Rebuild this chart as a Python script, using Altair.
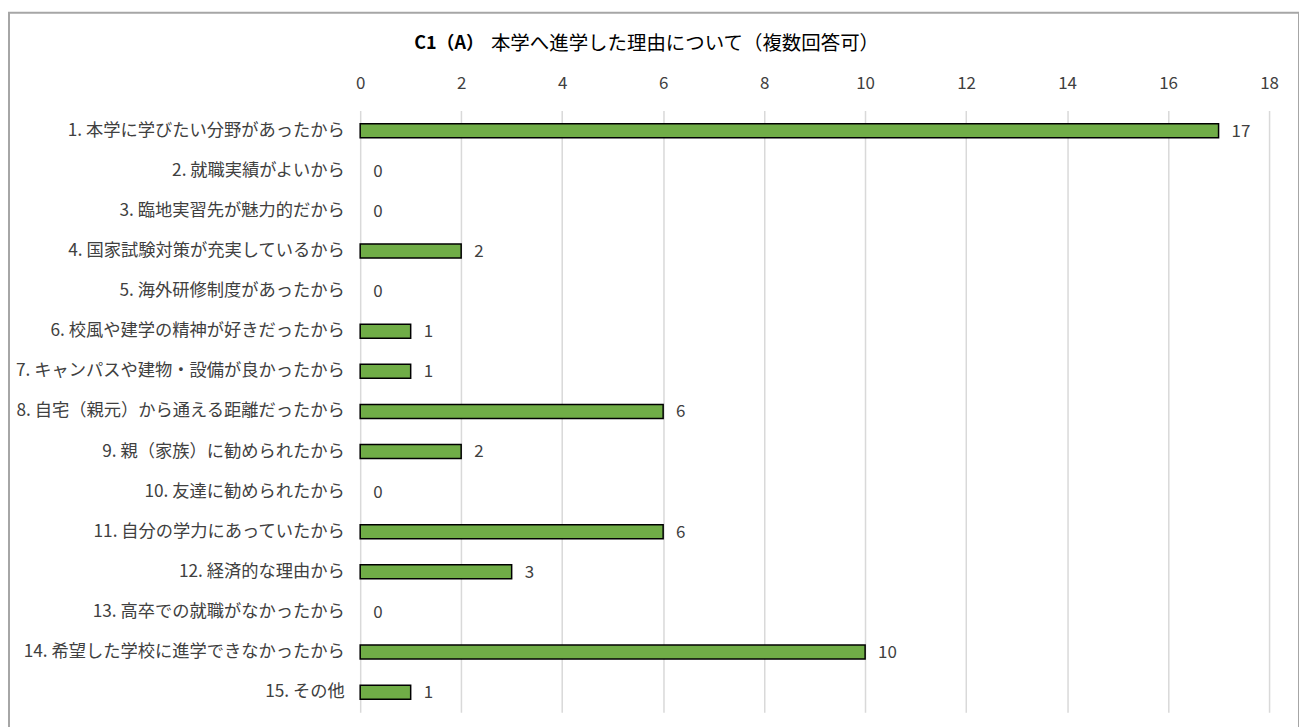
import altair as alt
import pandas as pd

categories = [
    "1. 本学に学びたい分野があったから",
    "2. 就職実績がよいから",
    "3. 臨地実習先が魅力的だから",
    "4. 国家試験対策が充実しているから",
    "5. 海外研修制度があったから",
    "6. 校風や建学の精神が好きだったから",
    "7. キャンパスや建物・設備が良かったから",
    "8. 自宅（親元）から通える距離だったから",
    "9. 親（家族）に勧められたから",
    "10. 友達に勧められたから",
    "11. 自分の学力にあっていたから",
    "12. 経済的な理由から",
    "13. 高卒での就職がなかったから",
    "14. 希望した学校に進学できなかったから",
    "15. その他",
]
values = [17, 0, 0, 2, 0, 1, 1, 6, 2, 0, 6, 3, 0, 10, 1]
title_bold = "C1（A）"
title_rest = "本学へ進学した理由について（複数回答可）"

FONT = "Noto Sans CJK JP"
df = pd.DataFrame({"cat": categories, "value": values})

x = alt.X("value:Q",
          scale=alt.Scale(domain=[0, 18], nice=False),
          axis=alt.Axis(orient="top", values=list(range(0, 19, 2)), title=None,
                        domain=False, ticks=False, labelPadding=18,
                        labelFlush=False, labelOverlap=False,
                        labelFontSize=17, labelColor="#404040", labelFont=FONT,
                        gridColor="#d9d9d9", gridWidth=1.5))
y = alt.Y("cat:N", sort=categories,
          scale=alt.Scale(paddingInner=0.0, paddingOuter=0.0),
          axis=alt.Axis(title=None, domain=False, ticks=False, labelPadding=16,
                        labelFontSize=17.3, labelColor="#404040", labelFont=FONT,
                        labelLimit=400, grid=False))

base = alt.Chart(df)
bars = base.transform_filter("datum.value > 0").mark_bar(
    size=14, color="#70ad47", stroke="#000000", strokeWidth=1.5
).encode(x=x, y=y)
labels = base.mark_text(align="left", baseline="middle", dx=13, dy=1, fontSize=17,
                        font=FONT, color="#404040").encode(
    x=alt.X("value:Q"), y=alt.Y("cat:N", sort=categories), text="value:Q")

one = pd.DataFrame({"t1": [title_bold], "t2": [title_rest]})
t1 = alt.Chart(one).mark_text(align="right", baseline="middle", fontSize=18,
                              fontWeight="bold", font=FONT, color="#000000").encode(
    x=alt.value(124), y=alt.value(-67), text="t1:N")
t2 = alt.Chart(one).mark_text(align="left", baseline="middle", fontSize=19.5,
                              font=FONT, color="#000000").encode(
    x=alt.value(131), y=alt.value(-67), text="t2:N")
border = alt.Chart(one).mark_rect(fillOpacity=0, stroke="#a6a6a6", strokeWidth=2,
                                  clip=False).encode(
    x=alt.value(-352), x2=alt.value(941), y=alt.value(-98), y2=alt.value(625))

chart = alt.layer(border, bars, labels, t1, t2).properties(
    width=911, height=603,
    autosize=alt.AutoSizeParams(type="none"),
    padding={"left": 353, "top": 102, "right": 30, "bottom": 20},
    background="#ffffff",
).configure_view(stroke=None)

chart.save("out.html", embed_options={"renderer": "svg", "actions": False})
